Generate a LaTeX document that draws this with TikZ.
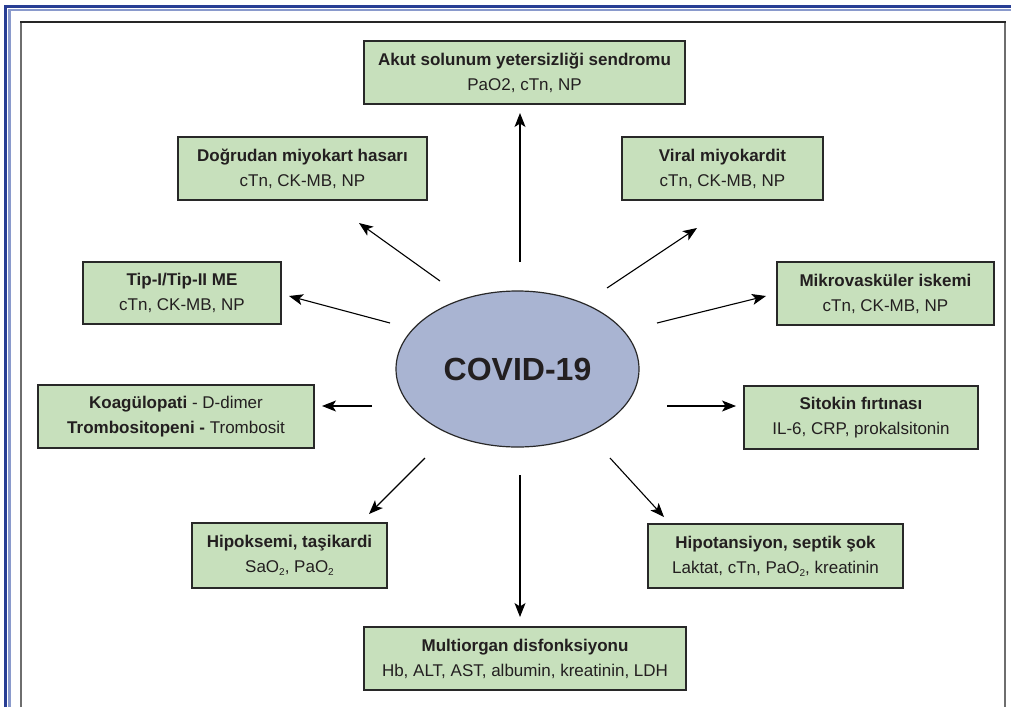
\documentclass[tikz,border=0pt]{standalone}
\usepackage{fontspec}
\setmainfont{Liberation Sans}
\usetikzlibrary{arrows.meta,shapes.geometric}
\definecolor{boxfill}{RGB}{199,224,188}
\definecolor{boxline}{RGB}{40,40,40}
\definecolor{ovalfill}{RGB}{169,180,210}
\definecolor{navy}{RGB}{40,62,148}
\definecolor{lightnavy}{RGB}{138,154,204}
\definecolor{framegrey}{RGB}{110,110,110}
\definecolor{inktext}{RGB}{35,31,32}
% lowered small subscript for the gas labels
\newcommand{\lowsub}[1]{\raisebox{-0.35ex}{\fontsize{10}{10}\selectfont #1}}
\begin{document}
\begin{tikzpicture}[x=1pt,y=-1pt,
  box/.style={draw=boxline, line width=1.3pt, fill=boxfill, align=center,
    inner sep=0pt, text=inktext, font=\fontsize{17}{25}\selectfont},
  oval/.style={ellipse, draw=boxline, line width=1.2pt, fill=ovalfill, inner sep=0pt,
    text=inktext, font=\fontsize{32}{36}\selectfont\bfseries},
  arr/.style={-{Stealth[length=14pt,width=11pt,inset=3.5pt]}, line width=1.1pt, draw=black}
]
\useasboundingbox (0,0) rectangle (1011,707);

% page frame
\draw[navy, line width=3pt, line join=miter] (5.5,707) -- (5.5,6) -- (1011,6);
\draw[lightnavy, line width=2.5pt, line join=miter] (9.5,707) -- (9.5,10) -- (1011,10);
\draw[framegrey, line width=1.5pt] (21,707) -- (21,22);
\draw[framegrey, line width=1.5pt] (1005,22) -- (1005,707);
\draw[black!85, line width=1.5pt] (20.25,22) -- (1005.75,22);

% centre
\node[oval, minimum width=243pt, minimum height=156pt] (covid) at (517.5,369) {COVID-19};

% outcome boxes
\node[box, minimum width=321pt, minimum height=63pt] (ards) at (524.5,72.5)
  {\textbf{Akut solunum yetersizliği sendromu}\\PaO2, cTn, NP};
\node[box, minimum width=249pt, minimum height=63pt] (dogrudan) at (302.5,168.5)
  {\textbf{Doğrudan miyokart hasarı}\\cTn, CK-MB, NP};
\node[box, minimum width=201pt, minimum height=63pt] (viral) at (722.5,168.5)
  {\textbf{Viral miyokardit}\\cTn, CK-MB, NP};
\node[box, minimum width=198pt, minimum height=62pt] (tipme) at (182,293)
  {\textbf{Tip-I/Tip-II ME}\\cTn, CK-MB, NP};
\node[box, minimum width=217pt, minimum height=63pt] (mikro) at (885.5,293.5)
  {\textbf{Mikrovasküler iskemi}\\cTn, CK-MB, NP};
\node[box, minimum width=276pt, minimum height=63pt] (koag) at (176,416.5)
  {\textbf{Koagülopati} - D-dimer\\\textbf{Trombositopeni -} Trombosit};
\node[box, minimum width=234pt, minimum height=63pt] (sitokin) at (861,417.5)
  {\textbf{Sitokin fırtınası}\\IL-6, CRP, prokalsitonin};
\node[box, minimum width=195pt, minimum height=65pt] (hipoks) at (289.5,555.5)
  {\textbf{Hipoksemi, taşikardi}\\SaO\lowsub{2}, PaO\lowsub{2}};
\node[box, minimum width=255pt, minimum height=64pt] (hipot) at (775.5,556)
  {\textbf{Hipotansiyon, septik şok}\\Laktat, cTn, PaO\lowsub{2}, kreatinin};
\node[box, minimum width=322pt, minimum height=63pt] (multi) at (525,658.5)
  {\textbf{Multiorgan disfonksiyonu}\\Hb, ALT, AST, albumin, kreatinin, LDH};

% arrow end points
\coordinate (upS) at (520,262);   \coordinate (upE) at (520,113);
\coordinate (ulS) at (440,281);   \coordinate (ulE) at (359,223);
\coordinate (urS) at (607,288);   \coordinate (urE) at (697,228);
\coordinate (lS)  at (390,323);   \coordinate (lE)  at (289,296);
\coordinate (rS)  at (657,323);   \coordinate (rE)  at (766,296);
\coordinate (hlS) at (372,406);   \coordinate (hlE) at (322,406);
\coordinate (hrS) at (667,406);   \coordinate (hrE) at (736,406);
\coordinate (dlS) at (425,458);   \coordinate (dlE) at (369,514);
\coordinate (drS) at (610,458);   \coordinate (drE) at (664,517);
\coordinate (dnS) at (520,475);   \coordinate (dnE) at (520,617);

\draw[arr] (upS) -- (upE);
\draw[arr] (ulS) -- (ulE);
\draw[arr] (urS) -- (urE);
\draw[arr] (lS) -- (lE);
\draw[arr] (rS) -- (rE);
\draw[arr] (hlS) -- (hlE);
\draw[arr] (hrS) -- (hrE);
\draw[arr] (dlS) -- (dlE);
\draw[arr] (drS) -- (drE);
\draw[arr] (dnS) -- (dnE);
\end{tikzpicture}
\end{document}
